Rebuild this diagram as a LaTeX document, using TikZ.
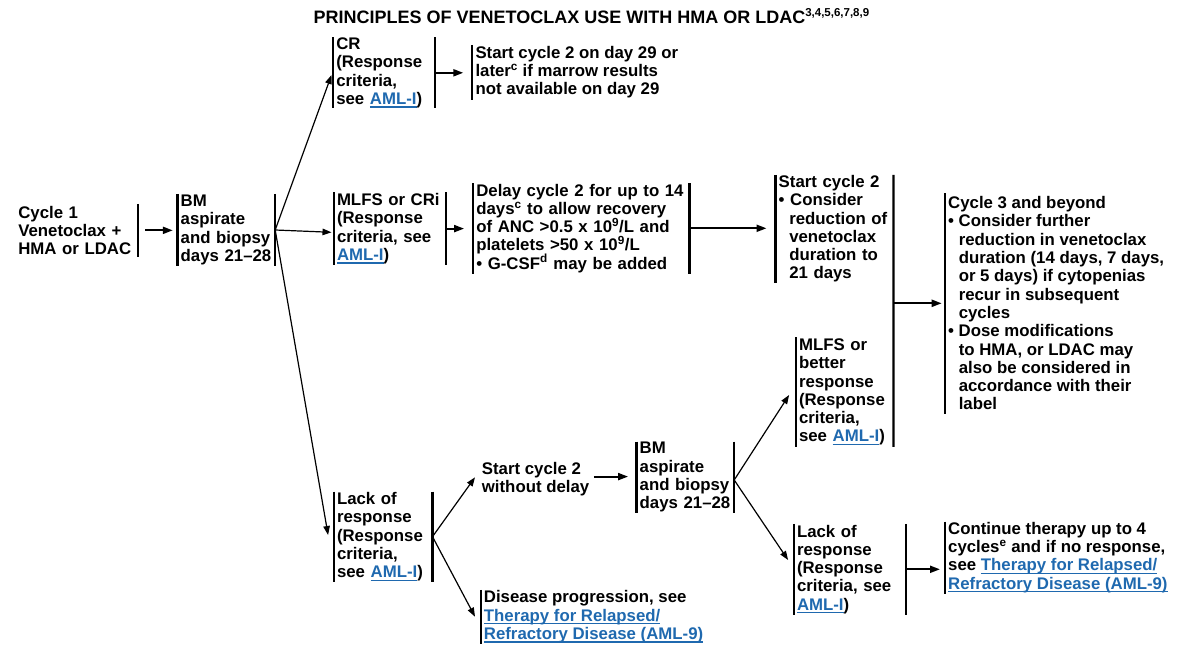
\documentclass[tikz,border=0pt]{standalone}
\usepackage{fontspec}
\setmainfont{Liberation Sans}
\usetikzlibrary{arrows.meta}
\definecolor{link}{RGB}{31,105,175}
\newcommand\bodyfnt{\fontsize{16.8}{18.3}\selectfont\bfseries}
\newcommand\bul{\textbullet\ }
\newcommand\ind{\hspace*{0.628em}}
\newcommand\lnk[1]{\textcolor{link}{\sbox0{#1}\rlap{\rule[-3.2pt]{\wd0}{1.2pt}}\usebox0}}
\begin{document}
\begin{tikzpicture}[x=1pt,y=-1pt,
  every node/.style={font=\bodyfnt},
  bx/.style={align=left, inner xsep=3pt, inner ysep=0pt, anchor=center},
  bar/.style={line width=2.2pt},
  harr/.style={line width=2pt, -{Triangle[length=10pt,width=7pt]}},
  farr/.style={line width=1.2pt, -{Triangle[length=9pt,width=6.5pt]}}]
\useasboundingbox (0,0) rectangle (1200,650);

\node[font=\fontsize{18}{20}\selectfont\bfseries, anchor=base west, inner sep=0pt] (title) at (313.4,23.5)
  {PRINCIPLES OF VENETOCLAX USE WITH HMA OR LDAC\raisebox{6.5pt}{\fontsize{11.5}{12}\selectfont 3,4,5,6,7,8,9}};

\node[bx, text width=116.4pt, minimum height=52.7pt] (cyc1) at (76.5,230.35) {Cycle 1\\Venetoclax +\\HMA or LDAC};
\node[bx, text width=91.3pt, minimum height=72pt] (bm1) at (226.35,230) {BM\\aspirate\\and biopsy\\days 21--28};
\node[bx, text width=95.7pt, minimum height=71pt] (cr) at (384.15,72.8) {CR\\(Response\\criteria,\\see \lnk{AML-I})};
\node[bx, anchor=west, minimum height=54.3pt] (st1) at (472.3,72.2) {Start cycle 2 on day 29 or\\later\textsuperscript{c} if marrow results\\not available on day 29};
\node[bx, text width=106pt, minimum height=71.8pt] (mlfs) at (390,228.6) {MLFS or CRi\\(Response\\criteria, see\\\lnk{AML-I})};
\node[bx, text width=210pt, minimum height=90pt] (delay) at (581.3,228.3) {Delay cycle 2 for up to 14\\days\textsuperscript{c} to allow recovery\\of ANC >0.5 x 10\textsuperscript{9}/L and\\platelets >50 x 10\textsuperscript{9}/L\\\bul G-CSF\textsuperscript{d} may be added};
\node[bx, text width=111.6pt, minimum height=107.7pt] (st2) at (834.5,228.9) {Start cycle 2\\\bul Consider\\\ind reduction of\\\ind venetoclax\\\ind duration to\\\ind 21 days};
\node[bx, text width=91.3pt, minimum height=109.2pt] (mlfsb) at (844.65,392.1) {MLFS or\\better\\response\\(Response\\criteria,\\see \lnk{AML-I})};
\node[bx, anchor=west, minimum height=220pt] (cyc3) at (945,303.3) {Cycle 3 and beyond\\\bul Consider further\\\ind reduction in venetoclax\\\ind duration (14 days, 7 days,\\\ind or 5 days) if cytopenias\\\ind recur in subsequent\\\ind cycles\\\bul Dose modifications\\\ind to HMA, or LDAC may\\\ind also be considered in\\\ind accordance with their\\\ind label};
\node[bx, text width=92.3pt, minimum height=90pt] (lack1) at (383.15,536.7) {Lack of\\response\\(Response\\criteria,\\see \lnk{AML-I})};
\node[bx, anchor=west] (sw) at (478.7,479.5) {Start cycle 2\\without delay};
\node[bx, anchor=west, minimum height=53.3pt] (dis) at (480.7,616.7) {Disease progression, see\\\lnk{Therapy for Relapsed/}\\\lnk{Refractory Disease (AML-9)}};
\node[bx, text width=91.3pt, minimum height=71pt] (bm2) at (685.35,477.2) {BM\\aspirate\\and biopsy\\days 21--28};
\node[bx, text width=106pt, minimum height=90.5pt] (lack2) at (850,569.3) {Lack of\\response\\(Response\\criteria, see\\\lnk{AML-I})};
\node[bx, anchor=west, minimum height=71.6pt] (cont) at (945,557.5) {Continue therapy up to 4\\cycles\textsuperscript{e} and if no response,\\see \lnk{Therapy for Relapsed/}\\\lnk{Refractory Disease (AML-9)}};

% bars
\draw[bar] (cyc1.north east) -- (cyc1.south east);
\foreach \n in {bm1,cr,mlfs,delay,lack1,bm2,lack2} {
  \draw[bar] (\n.north west) -- (\n.south west);
  \draw[bar] (\n.north east) -- (\n.south east);
}
\foreach \n in {st1,st2,mlfsb,cyc3,dis,cont} \draw[bar] (\n.north west) -- (\n.south west);
\draw[bar] (st2.north east) -- (mlfsb.south east);

% connectors
\draw[harr, shorten <=7.3pt, shorten >=4.7pt] (cyc1.east) -- (cyc1.east -| bm1.west);
\draw[farr] (bm1.east) -- ([xshift=-1.6pt,yshift=-2.2pt]cr.west);
\draw[farr] (bm1.east) -- ([xshift=-2.3pt,yshift=-3.7pt]mlfs.west);
\draw[farr] (bm1.east) -- ([xshift=-5.7pt,yshift=1.7pt]lack1.west);
\draw[harr, shorten >=9pt] (cr.east) -- (cr.east -| st1.west);
\draw[harr, shorten >=9pt] (mlfs.east) -- (mlfs.east -| delay.west);
\draw[harr, shorten >=9pt] (delay.east) -- (delay.east -| st2.west);
\draw[harr, shorten >=3.3pt] (cyc3.west -| st2.east) -- (cyc3.west);
\draw[farr] (lack1.east) -- ([xshift=-3.7pt,yshift=2.2pt]sw.west);
\draw[farr] (lack1.east) -- ([xshift=-5.7pt]dis.west);
\draw[harr, shorten <=1.5pt, shorten >=8.4pt] ([yshift=2.9pt]sw.east) -- ([yshift=2.9pt]sw.east -| bm2.west);
\draw[farr] ([yshift=-2.8pt]bm2.east) -- ([xshift=-6.7pt,yshift=-2.9pt]mlfsb.west);
\draw[farr] ([yshift=-2.8pt]bm2.east) -- ([xshift=-5.7pt,yshift=9.3pt]lack2.west);
\draw[harr, shorten >=5pt] (lack2.east) -- (lack2.east -| cont.west);
\end{tikzpicture}
\end{document}
